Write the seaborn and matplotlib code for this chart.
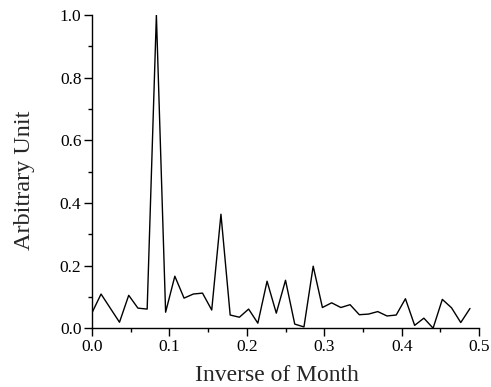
import numpy as np
import pandas as pd
import seaborn as sns
import matplotlib
matplotlib.use("Agg")
import matplotlib.pyplot as plt
from matplotlib.ticker import MultipleLocator

k = list(range(42))
frequency = [i / 84 for i in k]
amplitude = [0.048, 0.109, 0.064, 0.019, 0.105, 0.064, 0.061, 1.0, 0.051, 0.166,
             0.096, 0.109, 0.112, 0.058, 0.364, 0.042, 0.035, 0.061, 0.016, 0.150,
             0.048, 0.153, 0.013, 0.004, 0.198, 0.066, 0.081, 0.066, 0.075, 0.043,
             0.045, 0.053, 0.039, 0.042, 0.094, 0.009, 0.032, 0.0, 0.092, 0.065,
             0.018, 0.063]

df = pd.DataFrame({"freq": frequency, "amp": amplitude})

sns.set_theme(style="ticks")
plt.rcParams['font.family'] = ['Liberation Serif', 'DejaVu Serif']

fig = plt.figure(figsize=(4.91, 3.87), dpi=100)
ax = fig.add_axes([0.187, 0.152, 0.789, 0.809])
sns.lineplot(data=df, x="freq", y="amp", ax=ax, color="black", linewidth=1.0)

ax.set_xlim(0, 0.5)
ax.set_ylim(0, 1.0)
ax.xaxis.set_major_locator(MultipleLocator(0.1))
ax.xaxis.set_minor_locator(MultipleLocator(0.05))
ax.yaxis.set_major_locator(MultipleLocator(0.2))
ax.yaxis.set_minor_locator(MultipleLocator(0.1))
ax.set_xticklabels([f"{v:.1f}" for v in ax.get_xticks()])
ax.set_yticklabels([f"{v:.1f}" for v in ax.get_yticks()])
ax.tick_params(axis="both", which="major", length=6, width=1, direction="out",
               labelsize=12.5, colors="black", pad=1.5)
ax.tick_params(axis="both", which="minor", length=3, width=1, direction="out", colors="black")
for s in ["left", "bottom"]:
    ax.spines[s].set_linewidth(1)
    ax.spines[s].set_color("black")
sns.despine(ax=ax)
ax.set_xlabel("Inverse of Month", fontsize=17, labelpad=7.5)
ax.set_ylabel("Arbitrary Unit", fontsize=17.5, labelpad=18)
ax.xaxis.label.set_x(0.478)
ax.yaxis.label.set_y(0.473)
fig.savefig("out.png", dpi=100)
